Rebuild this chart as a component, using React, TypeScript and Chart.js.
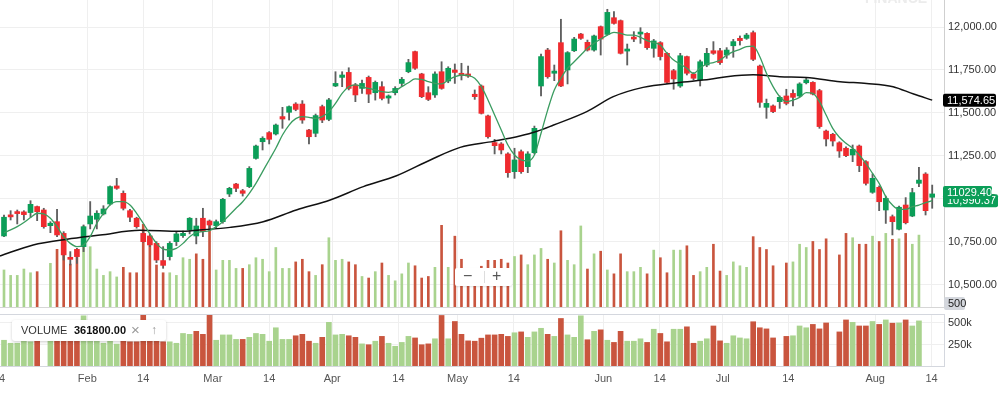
import React, { useEffect, useRef } from "react";
import { Chart, registerables } from "chart.js";
Chart.register(...registerables);

// ---------- data ----------
const openP = [
  10785, 10907, 10926, 10925, 10921, 10956, 10936, 10845, 10868, 10800,
  10661, 10707, 10723, 10855, 10882, 10913, 10971, 11076, 11033, 10932,
  10888, 10800, 10785, 10742, 10642, 10665, 10752, 10787, 10820, 10785,
  10888, 10872, 10845, 10868, 11029, 11087, 11048, 11072, 11236, 11333,
  11386, 11378, 11479, 11504, 11552, 11552, 11401, 11382, 11537, 11463,
  11657, 11707, 11736, 11663, 11643, 11707, 11618, 11653, 11587, 11618,
  11672, 11740, 11857, 11727, 11618, 11605, 11740, 11686, 11750, 11731,
  11727, 11609, 11657, 11483, 11328, 11320, 11262, 11159, 11275, 11188,
  11269, 11657, 11866, 11731, 11909, 11750, 11862, 11959, 11911, 11866,
  12002, 11957, 12054, 12037, 11860, 11940, 11959, 11963, 11876, 11909,
  11847, 11746, 11657, 11828, 11727, 11692, 11779, 11862, 11862, 11837,
  11891, 11934, 11934, 11967, 11773, 11533, 11541, 11566, 11599, 11614,
  11599, 11676, 11678, 11630, 11395, 11376, 11327, 11295, 11256, 11308,
  11217, 11039, 11068, 10936, 10897, 10824, 10965, 10901, 11091, 11145,
  11010,
];
const highP = [
  10907, 10932, 10936, 10932, 10990, 10959, 10946, 10868, 10940, 10810,
  10694, 10713, 10849, 10985, 10932, 10961, 11076, 11120, 11047, 10940,
  10894, 10810, 10797, 10752, 10723, 10752, 10810, 10814, 10892, 10888,
  10946, 10878, 10878, 11004, 11068, 11091, 11056, 11188, 11314, 11362,
  11392, 11436, 11533, 11541, 11560, 11572, 11405, 11494, 11546, 11585,
  11740, 11740, 11763, 11672, 11692, 11715, 11686, 11682, 11605, 11653,
  11707, 11812, 11860, 11731, 11653, 11740, 11798, 11769, 11785, 11789,
  11773, 11634, 11663, 11488, 11347, 11328, 11269, 11295, 11285, 11275,
  11424, 11843, 11876, 11779, 12045, 11857, 11940, 11963, 11924, 11953,
  12006, 12103, 12089, 12041, 11901, 11973, 11996, 11967, 11928, 11915,
  11851, 11754, 11847, 11831, 11735, 11808, 11876, 11915, 11876, 11880,
  11928, 11948, 11963, 11977, 11779, 11581, 11547, 11599, 11638, 11634,
  11676, 11702, 11682, 11638, 11401, 11382, 11333, 11304, 11314, 11314,
  11223, 11145, 11076, 11017, 10907, 10959, 11008, 11062, 11184, 11153,
  11081,
];
const lowP = [
  10781, 10878, 10855, 10878, 10894, 10874, 10830, 10804, 10781, 10645,
  10616, 10626, 10694, 10826, 10826, 10907, 10965, 11056, 10936, 10868,
  10830, 10748, 10723, 10630, 10597, 10645, 10729, 10777, 10797, 10739,
  10781, 10825, 10830, 10859, 11014, 11043, 11017, 11066, 11231, 11285,
  11320, 11372, 11411, 11459, 11513, 11440, 11320, 11362, 11444, 11455,
  11653, 11653, 11634, 11566, 11614, 11560, 11575, 11576, 11556, 11605,
  11657, 11734, 11754, 11589, 11572, 11591, 11638, 11676, 11672, 11692,
  11707, 11579, 11494, 11353, 11262, 11262, 11126, 11120, 11149, 11153,
  11262, 11599, 11702, 11688, 11653, 11669, 11857, 11928, 11860, 11860,
  11837, 11953, 12016, 11843, 11779, 11915, 11905, 11870, 11824, 11808,
  11672, 11638, 11649, 11721, 11692, 11657, 11769, 11841, 11783, 11818,
  11824, 11895, 11928, 11804, 11533, 11469, 11502, 11527, 11547, 11541,
  11595, 11669, 11605, 11411, 11308, 11308, 11242, 11246, 11217, 11159,
  11081, 11033, 10932, 10858, 10791, 10820, 10855, 10897, 11072, 10907,
  10946,
];
const closeP = [
  10894, 10896, 10915, 10909, 10969, 10926, 10839, 10859, 10791, 10675,
  10649, 10665, 10839, 10901, 10917, 10942, 11072, 11062, 10946, 10894,
  10839, 10752, 10733, 10645, 10614, 10742, 10797, 10800, 10888, 10843,
  10810, 10849, 10868, 10998, 11062, 11062, 11033, 11178, 11308, 11353,
  11347, 11430, 11465, 11537, 11521, 11459, 11362, 11485, 11459, 11576,
  11672, 11721, 11643, 11605, 11672, 11610, 11678, 11585, 11599, 11643,
  11696, 11793, 11760, 11595, 11579, 11727, 11643, 11760, 11736, 11719,
  11715, 11595, 11498, 11362, 11310, 11285, 11153, 11227, 11159, 11262,
  11411, 11828, 11711, 11744, 11657, 11851, 11930, 11934, 11866, 11948,
  11930, 12085, 12021, 11847, 11872, 11930, 11969, 11880, 11919, 11828,
  11678, 11698, 11833, 11731, 11702, 11798, 11847, 11847, 11793, 11866,
  11915, 11921, 11953, 11812, 11562, 11556, 11508, 11591, 11556, 11591,
  11669, 11692, 11610, 11421, 11349, 11337, 11279, 11252, 11289, 11194,
  11091, 11120, 10984, 11004, 10868, 10952, 10862, 11037, 11110, 10932,
  11029.4,
];

// volume in thousands (null = no bar)
const volumeK = [
  299, 264, 264, 305, 281, 288, null, 342, 432, 413,
  337, 432, 583, 449, 305, 264, 288, 254, 316, 281,
  281, 594, 481, 331, 281, 281, 264, 378, 368, 403,
  368, 594, 299, 361, 361, 309, 309, 333, 378, 368,
  288, 444, 309, 309, 351, 368, 288, 264, 333, 507,
  361, 368, 351, 333, 257, 247, 288, 344, 264, 229,
  274, 344, 326, 247, 257, 316, 587, 316, 517, 368,
  292, 288, 323, 361, 361, 368, 344, 386, 396, 333,
  396, 438, 368, 344, 552, 361, 333, 583, 305, 403,
  420, 299, 274, 403, 288, 288, 316, 274, 427, 378,
  281, 427, 427, 455, 264, 288, 316, 465, 292, 264,
  351, 326, 316, 514, 444, 431, 326, null, 344, 351,
  465, 444, 483, 431, 500, null, 396, 535, 507, 465,
  465, 517, 483, 535, 497, 500, 535, 465, 524, null,
  null,
];
// 1 = up (green) volume bar, 0 = down (red)
const volumeUp = [
  1, 1, 1, 1, 1, 0, 1, 1, 0, 0,
  0, 0, 1, 1, 1, 1, 1, 1, 0, 0,
  0, 0, 0, 0, 0, 1, 1, 1, 1, 0,
  0, 0, 1, 1, 1, 1, 0, 1, 1, 1,
  1, 1, 1, 1, 0, 0, 0, 1, 0, 1,
  1, 1, 0, 0, 1, 0, 1, 0, 1, 1,
  1, 1, 0, 0, 0, 1, 0, 1, 0, 0,
  0, 0, 0, 0, 0, 0, 0, 1, 0, 1,
  1, 1, 0, 1, 0, 1, 1, 1, 0, 1,
  0, 1, 0, 0, 1, 1, 1, 0, 1, 0,
  0, 1, 1, 0, 0, 1, 1, 0, 0, 1,
  1, 1, 1, 0, 0, 0, 0, 0, 0, 1,
  1, 1, 0, 0, 0, 0, 0, 0, 1, 0,
  0, 1, 0, 1, 0, 1, 0, 1, 1, 0,
  0,
];

// short moving average (green line), one value per candle
const shortMa = [
  10804, 10820, 10839, 10863, 10892, 10917, 10913, 10888, 10839, 10781,
  10742, 10723, 10733, 10781, 10859, 10917, 10965, 10985, 10985, 10965,
  10917, 10859, 10797, 10742, 10709, 10704, 10713, 10742, 10781, 10804,
  10810, 10816, 10839, 10868, 10907, 10946, 10984, 11033, 11091, 11159,
  11227, 11295, 11372, 11430, 11467, 11479, 11475, 11469, 11479, 11508,
  11556, 11614, 11653, 11663, 11653, 11643, 11634, 11624, 11620, 11630,
  11653, 11676, 11698, 11696, 11682, 11672, 11669, 11692, 11711, 11721,
  11718, 11702, 11653, 11576, 11488, 11401, 11314, 11256, 11227, 11221,
  11256, 11382, 11517, 11634, 11702, 11760, 11798, 11837, 11876, 11905,
  11930, 11953, 11969, 11963, 11953, 11953, 11940, 11921, 11909, 11895,
  11847, 11808, 11785, 11760, 11730, 11762, 11785, 11793, 11808, 11837,
  11857, 11870, 11886, 11889, 11827, 11731, 11653, 11595, 11566, 11575,
  11591, 11618, 11614, 11566, 11488, 11411, 11359, 11324, 11295, 11256,
  11207, 11149, 11091, 11014, 10965, 10940, 10940, 10955, 10965, 10979,
  10990.37,
];

// long moving average (black line), read at these candle positions
const longMaIdx = [
  -0.6, 4.4, 9.5, 14.5, 20.5, 26.5, 29.5, 34.1, 39.1, 44.1,
  49.2, 54.2, 59.2, 64.3, 68.8, 73.8, 77.8, 80.3, 82.9, 87.9,
  91.9, 96.4, 101.5, 106.5, 109, 113, 117, 121, 126.1, 130.1,
  134.1, 137.2, 140,
];
const longMaVal = [
  10669, 10733, 10766, 10790, 10818, 10812, 10820, 10835, 10868, 10936,
  10994, 11072, 11135, 11227, 11300, 11335, 11366, 11392, 11430, 11508,
  11595, 11649, 11676, 11696, 11711, 11722, 11711, 11707, 11682, 11672,
  11653, 11610, 11574.65,
];

// axis ticks
const tickIdx = [-0.75, 12.56, 21.0, 31.5, 40.0, 49.5, 59.5, 68.4, 76.9, 90.4, 98.9, 108.4, 118.3, 131.4, 139.9];
const tickLabels = ["14", "Feb", "14", "Mar", "14", "Apr", "14", "May", "14", "Jun", "14", "Jul", "14", "Aug", "14"];
const priceTicks = [10500, 10750, 11000, 11250, 11500, 11750, 12000];
const volumeTicks = [250000, 500000];

// ---------- style ----------
const FONT = "'Liberation Sans', Arial, Helvetica, sans-serif";
const C_UP = "#0b9e58";
const C_DOWN = "#ef2b2f";
const V_UP = "#a9d38e";
const V_DOWN = "#c9553e";
const GRID = "#efefef";
const X_MIN = -3.62;
const X_MAX = 141.78;

function fmt(v: number) {
  return v.toLocaleString("en-US", { minimumFractionDigits: 2, maximumFractionDigits: 2 });
}

function tag(ctx: CanvasRenderingContext2D, x: number, yc: number, w: number, h: number, bg: string, fg: string, text: string) {
  const y = yc - h / 2;
  const r = 2;
  ctx.beginPath();
  ctx.moveTo(x + r, y);
  ctx.lineTo(x + w - r, y);
  ctx.quadraticCurveTo(x + w, y, x + w, y + r);
  ctx.lineTo(x + w, y + h - r);
  ctx.quadraticCurveTo(x + w, y + h, x + w - r, y + h);
  ctx.lineTo(x + r, y + h);
  ctx.quadraticCurveTo(x, y + h, x, y + h - r);
  ctx.lineTo(x, y + r);
  ctx.quadraticCurveTo(x, y, x + r, y);
  ctx.closePath();
  ctx.fillStyle = bg;
  ctx.fill();
  ctx.fillStyle = fg;
  ctx.font = `11px ${FONT}`;
  ctx.textAlign = "left";
  ctx.textBaseline = "middle";
  ctx.fillText(text, x + 4, yc + 0.5);
}

const setXTicks = (s: any) => {
  s.ticks = tickIdx.map((v) => ({ value: v }));
};

export default function App() {
  const topRef = useRef<HTMLCanvasElement>(null);
  const botRef = useRef<HTMLCanvasElement>(null);

  useEffect(() => {
    document.body.style.margin = "0";
    Chart.defaults.font.family = FONT;

    const idx = openP.map((_, i) => i);
    const candleColors = idx.map((i) => (closeP[i] >= openP[i] ? C_UP : C_DOWN));
    const volColors = idx.map((i) => (volumeUp[i] ? V_UP : V_DOWN));
    const volData = idx.map((i) => ({ x: i, y: volumeK[i] == null ? null : (volumeK[i] as number) * 1000 }));
    const lastClose = closeP[closeP.length - 1];
    const lastShort = shortMa[shortMa.length - 1];
    const lastLong = longMaVal[longMaVal.length - 1];

    const xCommon = {
      type: "linear" as const,
      min: X_MIN,
      max: X_MAX,
      offset: false,
      afterBuildTicks: setXTicks,
      afterFit: (s: any) => {
        s.paddingLeft = 0;
        s.paddingRight = 0;
      },
    };
    const yFit = (s: any) => {
      s.width = 56;
      s.paddingTop = 0;
      s.paddingBottom = 0;
    };

    const topPlugin = {
      id: "tags",
      afterDraw(chart: any) {
        const { ctx, chartArea, scales } = chart;
        const ys = scales.y;
        const right = chartArea.right;
        ctx.save();
        ctx.font = `bold 14px ${FONT}`;
        ctx.fillStyle = "#ececec";
        ctx.textAlign = "center";
        ctx.textBaseline = "alphabetic";
        ctx.fillText("FINANCE", right - 48, 3);
        tag(ctx, right - 1, ys.getPixelForValue(lastLong), 53, 13, "#000", "#fff", fmt(lastLong));
        tag(ctx, right - 1, ys.getPixelForValue(lastShort), 55, 13, C_UP, "#fff", fmt(lastShort));
        tag(ctx, right - 1, ys.getPixelForValue(lastClose) - 1.5, 49, 13, C_UP, "#fff", lastClose.toFixed(2));
        tag(ctx, right, 303.5, 21, 13, "#d4d7dd", "#222", "500");
        ctx.restore();
      },
    };

    const top = new Chart(topRef.current!, {
      type: "bar",
      data: {
        datasets: [
          {
            type: "line",
            label: "short",
            data: shortMa.map((v, i) => ({ x: i, y: v })),
            borderColor: "#3a9c60",
            borderWidth: 1.3,
            pointRadius: 0,
            cubicInterpolationMode: "monotone",
            yAxisID: "y",
            order: 0,
          } as any,
          {
            type: "line",
            label: "long",
            data: longMaIdx.map((x, k) => ({ x, y: longMaVal[k] })),
            borderColor: "#111111",
            borderWidth: 1.5,
            pointRadius: 0,
            cubicInterpolationMode: "monotone",
            yAxisID: "y",
            order: 1,
          } as any,
          {
            type: "bar",
            label: "body",
            data: idx.map((i) => ({ x: i, y: [openP[i], closeP[i]] })),
            backgroundColor: candleColors,
            barThickness: 5,
            grouped: false,
            minBarLength: 2,
            yAxisID: "y",
            order: 2,
          } as any,
          {
            type: "bar",
            label: "wick",
            data: idx.map((i) => ({ x: i, y: [lowP[i], highP[i]] })),
            backgroundColor: "#5f5f5f",
            barThickness: 1.2,
            grouped: false,
            yAxisID: "y",
            order: 3,
          } as any,
          {
            type: "bar",
            label: "vol",
            data: volData,
            backgroundColor: volColors,
            barThickness: 2,
            grouped: false,
            yAxisID: "yv",
            order: 4,
          } as any,
        ],
      },
      options: {
        responsive: false,
        animation: false,
        devicePixelRatio: 1,
        layout: { padding: { top: 0, bottom: 4, left: 0, right: 0 } },
        plugins: { legend: { display: false }, tooltip: { enabled: false } },
        scales: {
          x: {
            ...xCommon,
            grid: { color: GRID, drawTicks: false, offset: false },
            border: { display: true, color: "#d6d6d6" },
            ticks: { display: false },
          },
          y: {
            type: "linear",
            position: "right",
            min: 10372,
            max: 12157,
            afterBuildTicks: (s: any) => {
              s.ticks = priceTicks.map((v) => ({ value: v }));
            },
            grid: { color: GRID, drawTicks: false },
            border: { display: true, color: "#cfcfcf" },
            ticks: {
              padding: 4,
              color: "#333",
              font: { size: 11, family: FONT },
              callback: (v: any) => fmt(Number(v)),
            },
            afterFit: yFit,
          },
          yv: { type: "linear", display: false, min: 60000, max: 2041000 },
        },
      } as any,
      plugins: [topPlugin],
    });

    const botPlugin = {
      id: "frame",
      afterDraw(chart: any) {
        const { ctx, chartArea } = chart;
        ctx.save();
        ctx.strokeStyle = "#d4d7de";
        ctx.lineWidth = 1;
        ctx.beginPath();
        ctx.moveTo(chartArea.left, Math.round(chartArea.top) + 0.5);
        ctx.lineTo(chartArea.right, Math.round(chartArea.top) + 0.5);
        ctx.stroke();
        ctx.restore();
      },
    };

    const bot = new Chart(botRef.current!, {
      type: "bar",
      data: {
        datasets: [
          {
            label: "volume",
            data: volData,
            backgroundColor: volColors,
            barThickness: 5,
            grouped: false,
          } as any,
        ],
      },
      options: {
        responsive: false,
        animation: false,
        devicePixelRatio: 1,
        layout: { padding: { top: 4, bottom: 3.8, left: 0, right: 0 } },
        plugins: { legend: { display: false }, tooltip: { enabled: false } },
        scales: {
          x: {
            ...xCommon,
            grid: { color: GRID, drawTicks: false, offset: false },
            border: { display: true, color: "#d4d7de" },
            ticks: {
              autoSkip: false,
              maxRotation: 0,
              padding: 6,
              color: "#555",
              font: { size: 11, family: FONT },
              callback: (_v: any, i: number) => tickLabels[i],
            },
          },
          y: {
            type: "linear",
            position: "right",
            min: 0,
            max: 604000,
            afterBuildTicks: (s: any) => {
              s.ticks = volumeTicks.map((v) => ({ value: v }));
            },
            grid: { color: GRID, drawTicks: false },
            border: { display: true, color: "#d4d7de" },
            ticks: {
              padding: 4,
              color: "#333",
              font: { size: 11, family: FONT },
              callback: (v: any) => Number(v) / 1000 + "k",
            },
            afterFit: yFit,
          },
        },
      } as any,
      plugins: [botPlugin],
    });

    return () => {
      top.destroy();
      bot.destroy();
    };
  }, []);

  return (
    <div style={{ position: "relative", width: 1000, height: 395, overflow: "hidden", background: "#fff", fontFamily: FONT }}>
      <canvas ref={topRef} width={1020} height={311} style={{ position: "absolute", left: -20, top: 0 }} />
      <canvas ref={botRef} width={1020} height={85} style={{ position: "absolute", left: -20, top: 310 }} />
      <div
        style={{
          position: "absolute",
          left: 12,
          top: 320,
          width: 154,
          height: 21,
          background: "#fff",
          borderRadius: 3,
          boxShadow: "0 1px 3px rgba(0,0,0,0.2)",
          fontSize: 11,
          color: "#333",
        }}
      >
        <span style={{ position: "absolute", left: 9, top: 4 }}>VOLUME</span>
        <span style={{ position: "absolute", left: 62, top: 4, fontWeight: "bold", color: "#111" }}>361800.00</span>
        <span style={{ position: "absolute", left: 119, top: 1, fontSize: 15, color: "#9a9a9a" }}>×</span>
        <span style={{ position: "absolute", left: 139, top: 3, fontSize: 12, color: "#9a9a9a" }}>↑</span>
      </div>
      <div
        style={{
          position: "absolute",
          left: 455,
          top: 268,
          width: 57,
          height: 18,
          background: "#fff",
          borderRadius: 2,
          boxShadow: "0 1px 2px rgba(0,0,0,0.12)",
          color: "#555",
        }}
      >
        <span style={{ position: "absolute", left: 8, top: -1, fontSize: 16 }}>−</span>
        <span style={{ position: "absolute", left: 29, top: 3, width: 1, height: 12, background: "#ddd" }} />
        <span style={{ position: "absolute", left: 37, top: -1, fontSize: 16 }}>+</span>
      </div>
    </div>
  );
}
